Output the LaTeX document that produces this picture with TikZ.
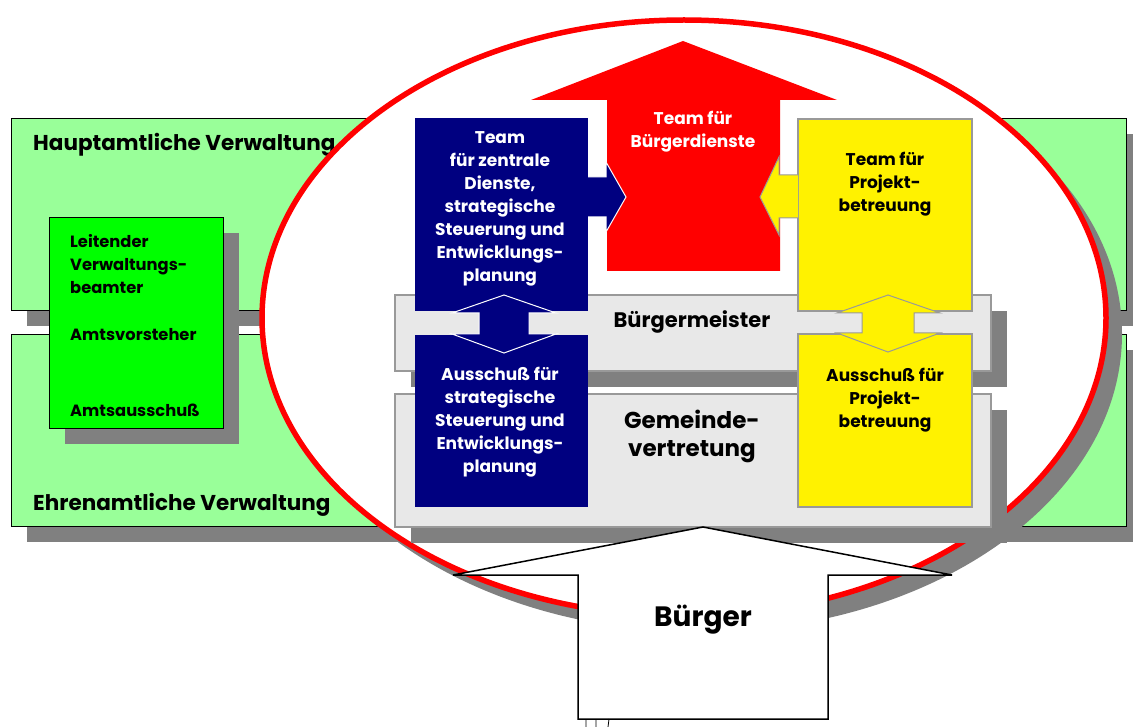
\documentclass[tikz,border=0pt]{standalone}
\usepackage{fontspec}
\setmainfont{Poppins}
\definecolor{hellgruen}{HTML}{99FF99}
\definecolor{gruen}{HTML}{00FF00}
\definecolor{schatten}{HTML}{808080}
\definecolor{hellgrau}{HTML}{E8E8E8}
\definecolor{rand}{HTML}{999999}
\definecolor{dunkelblau}{HTML}{000080}
\begin{document}
\begin{tikzpicture}[x=1pt,y=-1pt,
    txt/.style={font=\bfseries\fontsize{17}{23}\selectfont,align=center,inner sep=0pt},
    links/.style={font=\bfseries\fontsize{16.3}{23}\selectfont,align=left,inner sep=0pt,anchor=west},
    titel/.style={font=\bfseries\fontsize{21.5}{24}\selectfont,inner sep=0pt,anchor=west}]
   \useasboundingbox (0,0) rectangle (1133,727);
   % Verwaltung, gruene Flaechen
   \fill[schatten] (27,134) rectangle (1142,326);
   \draw[fill=hellgruen] (11,118) rectangle (1126,310);
   \fill[schatten] (27,350) rectangle (1142,542);
   \draw[fill=hellgruen] (11,334) rectangle (1126,526);
   \node[titel] (haupt) at (33,145) {Hauptamtliche Verwaltung};
   \node[titel] (ehren) at (33,505) {Ehrenamtliche Verwaltung};
   % Amt
   \fill[schatten] (65,233) rectangle (239,444);
   \draw[fill=gruen] (49,217) rectangle (223,428);
   \node[links] (lvb) at (70,264) {Leitender\\Verwaltungs-\\beamter};
   \node[links] (avs) at (70,335) {Amtsvorsteher};
   \node[links] (aas) at (70,410) {Amtsausschuß};
   % Ellipse
   \fill[schatten] (700,334) ellipse [x radius=422pt, y radius=298pt];
   \draw[red,line width=5.5pt,fill=white] (684,318) ellipse [x radius=422pt, y radius=298pt];
   % Buergermeister, Gemeindevertretung
   \fill[schatten] (411,311) rectangle (1007,387);
   \draw[rand,line width=1.5pt,fill=hellgrau] (395,295) rectangle (991,371);
   \fill[schatten] (411,410) rectangle (1007,543);
   \draw[rand,line width=1.5pt,fill=hellgrau] (395,394) rectangle (991,527);
   % Team fuer Buergerdienste, Pfeil
   \fill[red] (607,271) -- (607,100) -- (531,100) -- (683,41) -- (837,100)
      -- (780,100) -- (780,271) -- cycle;
   % zentrale Dienste
   \fill[dunkelblau] (415,118) rectangle (588,311);
   \fill[dunkelblau] (415,335) rectangle (588,507);
   \draw[white,line width=1pt,fill=dunkelblau] (588,177) -- (606,177) -- (606,162) -- (626,197)
      -- (606,232) -- (606,217) -- (588,217);
   \draw[white,line width=1pt,fill=dunkelblau] (504,295) -- (556,313) -- (529,313) -- (529,334)
      -- (556,334) -- (504,353) -- (452,334) -- (479,334) -- (479,313) -- (452,313) -- cycle;
   % Projektbetreuung
   \draw[rand,line width=1.5pt,fill=yellow] (798,119) rectangle (972,311);
   \draw[rand,line width=1.5pt,fill=yellow] (798,334) rectangle (972,507);
   \draw[rand,line width=1pt,fill=yellow] (798,175) -- (779,175) -- (779,157) -- (760,197)
      -- (779,235) -- (779,218) -- (798,218);
   \draw[rand,line width=1pt,fill=yellow] (888,295) -- (940,313) -- (914,313) -- (914,333)
      -- (940,333) -- (888,352) -- (837,333) -- (862,333) -- (862,313) -- (837,313) -- cycle;
   % Beschriftung
   \node[txt,white] (bd) at (693,132) {Team für\\Bürgerdienste};
   \node[txt,white] (zd) at (500,209) {Team\\für zentrale\\Dienste,\\strategische\\Steuerung und\\Entwicklungs-\\planung};
   \node[txt,white] (as) at (500,422) {Ausschuß für\\strategische\\Steuerung und\\Entwicklungs-\\planung};
   \node[txt] (tp) at (885,184) {Team für\\Projekt-\\betreuung};
   \node[txt] (ap) at (885,400) {Ausschuß für\\Projekt-\\betreuung};
   \node[txt,font=\bfseries\fontsize{21}{24}\selectfont] (bm) at (692,322) {Bürgermeister};
   \node[txt,font=\bfseries\fontsize{23}{28}\selectfont] (gv) at (692,436) {Gemeinde-\\vertretung};
   % Buerger
   \draw[line width=1.5pt,fill=white] (578,719) -- (578,575) -- (453,575) -- (703,527)
      -- (952,575) -- (828,575) -- (828,719) -- cycle;
   \node[txt,font=\bfseries\fontsize{28}{30}\selectfont] (b) at (703,620) {Bürger};
   \draw[thick] (586,719) -- (586,727) (596,719) -- (596,727) (609,719) -- (608,727);
\end{tikzpicture}
\end{document}
